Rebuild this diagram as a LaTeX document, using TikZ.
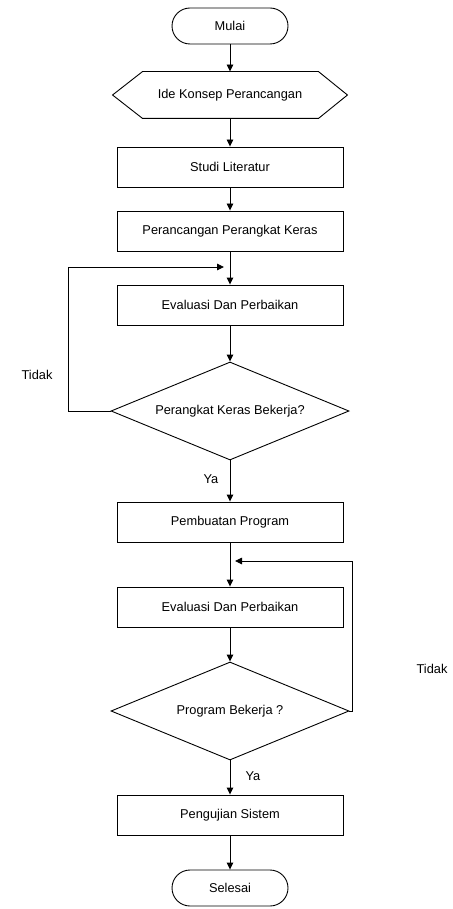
\documentclass[tikz,border=0pt]{standalone}
\usepackage{fontspec}
\setmainfont{Liberation Sans}
\usetikzlibrary{shapes.geometric,arrows.meta}
\begin{document}
\begin{tikzpicture}[x=1pt,y=1pt,
  font=\fontsize{12.8}{15}\selectfont,
  line width=0.9pt,
  procbox/.style={draw, rectangle, minimum width=226pt, minimum height=40pt, inner sep=0pt},
  termbox/.style={draw, rectangle, rounded corners=18pt, minimum width=116pt, minimum height=36pt, inner sep=0pt},
  decbox/.style={draw, diamond, aspect=2.43, minimum width=238pt, minimum height=98pt, inner sep=0pt},
  arr/.style={-{Triangle[length=7pt,width=6.5pt]}},
  lbl/.style={inner sep=0pt}]
\useasboundingbox (0,0) rectangle (452,-909);
\fill[white] (0,0) rectangle (452,-909);

\node[termbox] (start) at (230,-26) {Mulai};
\node[rectangle, minimum width=234pt, minimum height=46pt, inner sep=0pt] (idea) at (230,-95) {Ide Konsep Perancangan};
\draw (idea.west) -- ([xshift=30pt]idea.north west) -- ([xshift=-29pt]idea.north east) -- (idea.east) -- ([xshift=-29pt]idea.south east) -- ([xshift=30pt]idea.south west) -- cycle;
\node[procbox] (studi) at (230,-167) {Studi Literatur};
\node[procbox] (hw) at (230,-231) {Perancangan Perangkat Keras};
\node[procbox] (eval1) at (230,-305) {Evaluasi Dan Perbaikan};
\node[decbox] (dec1) at (230,-411) {Perangkat Keras Bekerja?};
\node[procbox] (prog) at (230,-522) {Pembuatan Program};
\node[procbox] (eval2) at (230,-607) {Evaluasi Dan Perbaikan};
\node[decbox] (dec2) at (230,-711) {Program Bekerja ?};
\node[procbox] (test) at (230,-815) {Pengujian Sistem};
\node[termbox] (stop) at (230,-888) {Selesai};

\draw[arr] (start) -- (idea.north);
\draw[arr] (idea.south) -- (studi);
\draw[arr] (studi) -- (hw);
\draw[arr] (hw) -- (eval1);
\draw[arr] (eval1) -- (dec1);
\draw[arr] (dec1) -- (prog);
\draw[arr] (prog) -- (eval2);
\draw[arr] (eval2) -- (dec2);
\draw[arr] (dec2) -- (test);
\draw[arr] (test) -- (stop);

\coordinate (l1a) at (68,-411);
\coordinate (l1b) at (68,-267);
\coordinate (l1end) at (224,-267);
\draw[arr] (dec1.west) -- (l1a) -- (l1b) -- (l1end);

\coordinate (r2a) at (352,-711);
\coordinate (r2b) at (352,-561);
\coordinate (r2end) at (235,-561);
\draw[arr] (dec2.east) -- (r2a) -- (r2b) -- (r2end);

\node[lbl] (ya1) at (211,-479) {Ya};
\node[lbl] (ya2) at (253,-776) {Ya};
\node[lbl] (tidak1) at (37,-375) {Tidak};
\node[lbl] (tidak2) at (432,-669) {Tidak};
\end{tikzpicture}
\end{document}
